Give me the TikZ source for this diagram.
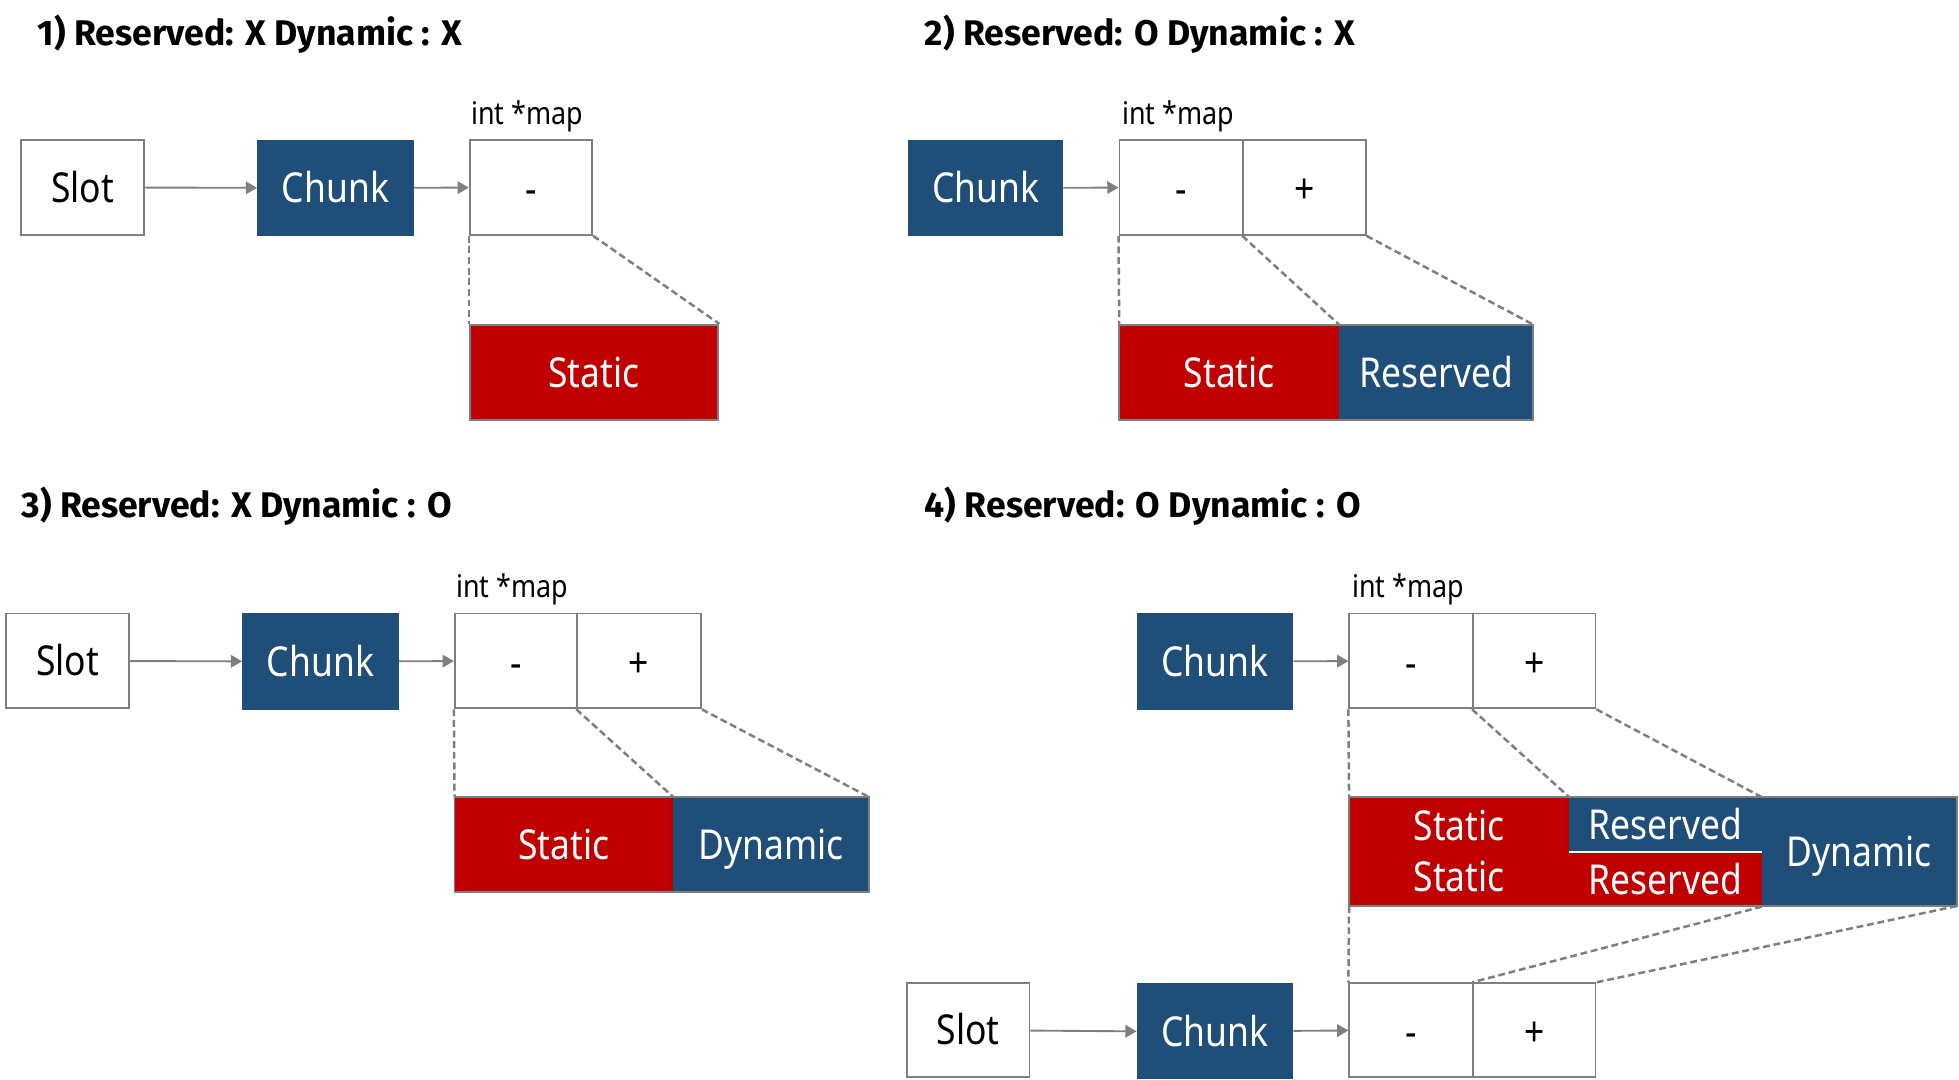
\documentclass[tikz,border=0pt]{standalone}
\usepackage{fontspec}
\setmainfont{Noto Sans}[FakeStretch=0.86]
\newfontfamily\ttlfont{Fira Sans}
\usetikzlibrary{arrows.meta}
\definecolor{cblue}{HTML}{1F4E79}
\definecolor{cred}{HTML}{C00000}
\definecolor{cgray}{HTML}{7F7F7F}
\tikzset{
  lblfont/.style={font=\fontsize{33}{36}\selectfont, text height=23.6pt, text depth=0pt},
  cellbox/.style={draw=cgray, line width=1.5pt, fill=white, minimum width=98pt, minimum height=76pt, inner sep=0pt, font=\fontsize{33}{36}\selectfont, text height=26pt, text depth=0pt},
  chunkbox/.style={fill=cblue, text=white, minimum width=125pt, minimum height=77pt, inner sep=0pt, lblfont},
  colbox/.style={text=white, minimum height=76pt, inner sep=0pt, lblfont},
  arr/.style={draw=cgray, line width=1.5pt, -{Triangle[length=9pt,width=10pt]}},
  dline/.style={draw=cgray, line width=2pt, dash pattern=on 5.5pt off 3pt},
  ttl/.style={anchor=west, inner sep=0pt, font=\ttlfont\fontsize{28.5}{31}\selectfont\bfseries},
  lbl/.style={anchor=west, inner sep=0pt, font=\fontsize{25}{28}\selectfont},
}
\begin{document}
\begin{tikzpicture}[x=1pt, y=-1pt]
\useasboundingbox (0,0) rectangle (1568,864);
% ---------- Panel 1 ----------
\node[ttl] (t1) at (30,27) {1) Reserved: X Dynamic : X};
\node[cellbox, lblfont] (slot1) at (66,150) {Slot};
\node[chunkbox] (chunk1) at (268.5,150.5) {Chunk};
\node[cellbox] (m1a) at (425,150) {-};
\node[lbl] (il1) at (377,93) {int *map};
\node[colbox, fill=cred, draw=cgray, line width=1.5pt, minimum width=199pt] (s1) at (475.5,298) {Static};
\draw[arr] (slot1) -- (chunk1);
\draw[arr] (chunk1) -- (m1a);
\draw[dline] (m1a.south west) -- (s1.north west);
\draw[dline] (m1a.south east) -- (s1.north east);
% ---------- Panel 2 ----------
\node[ttl] (t2) at (740,27) {2) Reserved: O Dynamic : X};
\node[chunkbox, minimum width=124pt] (chunk2) at (789,150.5) {Chunk};
\node[cellbox, minimum width=99pt] (m2a) at (945.5,150) {-};
\node[cellbox] (m2b) at (1044,150) {+};
\node[lbl] (il2) at (898,93) {int *map};
\node[colbox, fill=cred, minimum width=176pt] (s2) at (984,298) {Static};
\node[colbox, fill=cblue, minimum width=155pt] (r2) at (1149.5,298) {Reserved};
\draw[cgray, line width=1.5pt] (s2.north west) rectangle (r2.south east);
\draw[arr] (chunk2) -- (m2a);
\draw[dline] (m2a.south west) -- (s2.north west);
\draw[dline] (m2b.south west) -- (r2.north west);
\draw[dline] (m2b.south east) -- (r2.north east);
% ---------- Panel 3 ----------
\node[ttl] (t3) at (17,405) {3) Reserved: X Dynamic : O};
\node[cellbox, lblfont] (slot3) at (54,529) {Slot};
\node[chunkbox] (chunk3) at (256.5,529.5) {Chunk};
\node[cellbox] (m3a) at (413,529) {-};
\node[cellbox, minimum width=99pt] (m3b) at (511.5,529) {+};
\node[lbl] (il3) at (365,472) {int *map};
\node[colbox, fill=cred, minimum width=175pt] (s3) at (451.5,676) {Static};
\node[colbox, fill=cblue, minimum width=156pt] (d3) at (617,676) {Dynamic};
\draw[cgray, line width=1.5pt] (s3.north west) rectangle (d3.south east);
\draw[arr] (slot3) -- (chunk3);
\draw[arr] (chunk3) -- (m3a);
\draw[dline] (m3a.south west) -- (s3.north west);
\draw[dline] (m3b.south west) -- (d3.north west);
\draw[dline] (m3b.south east) -- (d3.north east);
% ---------- Panel 4 ----------
\node[ttl] (t4) at (740,405) {4) Reserved: O Dynamic : O};
\node[chunkbox] (chunk4) at (972.5,529.5) {Chunk};
\node[cellbox, minimum width=99pt] (m4a) at (1129.5,529) {-};
\node[cellbox] (m4b) at (1228,529) {+};
\node[lbl] (il4) at (1082,472) {int *map};
% composite block
\node[colbox, fill=cred, minimum width=176pt, minimum height=87pt] (s4) at (1168,681.5) {};
\node[colbox, fill=cblue, minimum width=154pt, minimum height=44pt] (r4a) at (1333,660) {Reserved};
\node[colbox, fill=cred, minimum width=154pt, minimum height=43pt] (r4b) at (1333,704) {Reserved};
\node[colbox, fill=cblue, minimum width=156pt, minimum height=87pt] (d4) at (1488,681.5) {Dynamic};
\node[colbox, minimum height=30pt] (st4a) at (1168,661) {Static};
\node[colbox, minimum height=30pt] (st4b) at (1168,702) {Static};
\draw[white, line width=1.5pt] (r4a.south west) -- (r4a.south east);
\draw[cgray, line width=1.5pt] (s4.north west) rectangle (d4.south east);
\draw[arr] (chunk4) -- (m4a);
\draw[dline] (m4a.south west) -- (s4.north west);
\draw[dline] (m4b.south west) -- (r4a.north west);
\draw[dline] (m4b.south east) -- (d4.north west);
% bottom row
\node[cellbox, lblfont, minimum height=75pt] (slot5) at (775,824.5) {Slot};
\node[chunkbox] (chunk5) at (972.5,825.5) {Chunk};
\node[cellbox, minimum width=99pt, minimum height=75pt] (m5a) at (1129.5,824.5) {-};
\node[cellbox, minimum height=75pt] (m5b) at (1228,824.5) {+};
\draw[arr] (slot5) -- (chunk5.west);
\draw[arr] (chunk5) -- (m5a);
\draw[dline] (s4.south west) -- (m5a.north west);
\draw[dline] (r4b.south east) -- (m5b.north west);
\draw[dline] (d4.south east) -- (m5b.north east);
\end{tikzpicture}
\end{document}
